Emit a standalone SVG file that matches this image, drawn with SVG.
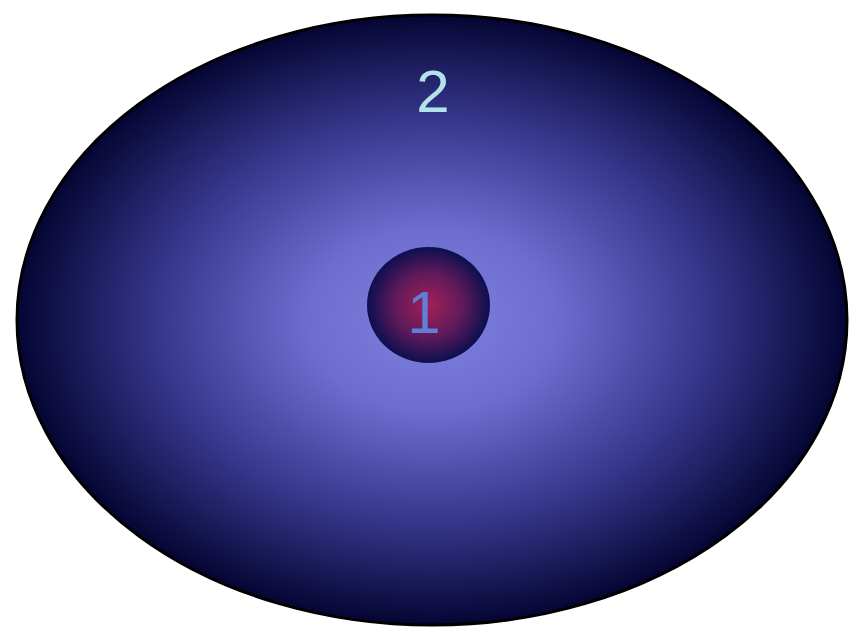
<svg xmlns="http://www.w3.org/2000/svg" width="862" height="642" viewBox="0 0 862 642">
<defs>
<radialGradient id="g2" cx="50%" cy="50%" r="50%">
<stop offset="0" stop-color="#8080de"/>
<stop offset="0.3" stop-color="#6d6dcf"/>
<stop offset="0.65" stop-color="#38388f"/>
<stop offset="1" stop-color="#050533"/>
</radialGradient>
<radialGradient id="g1" cx="50%" cy="50%" r="50%">
<stop offset="0" stop-color="#a32058"/>
<stop offset="0.55" stop-color="#601a5a"/>
<stop offset="1" stop-color="#0c0f50"/>
</radialGradient>
</defs>
<style>
.lbl{font-family:"Liberation Sans",Arial,sans-serif;font-size:60px;text-anchor:middle}
</style>
<rect width="862" height="642" fill="#ffffff"/>
<g id="node2">
<ellipse cx="432" cy="320" rx="415" ry="305" fill="url(#g2)" stroke="#000000" stroke-width="3"/>
<text class="lbl" x="433" y="112" fill="#b4e2ea">2</text>
</g>
<g id="node1">
<ellipse cx="428.5" cy="305" rx="61.5" ry="58" fill="url(#g1)"/>
<text class="lbl" x="424" y="333" fill="#5f80d8">1</text>
</g>
<g id="connectors"/>
</svg>
